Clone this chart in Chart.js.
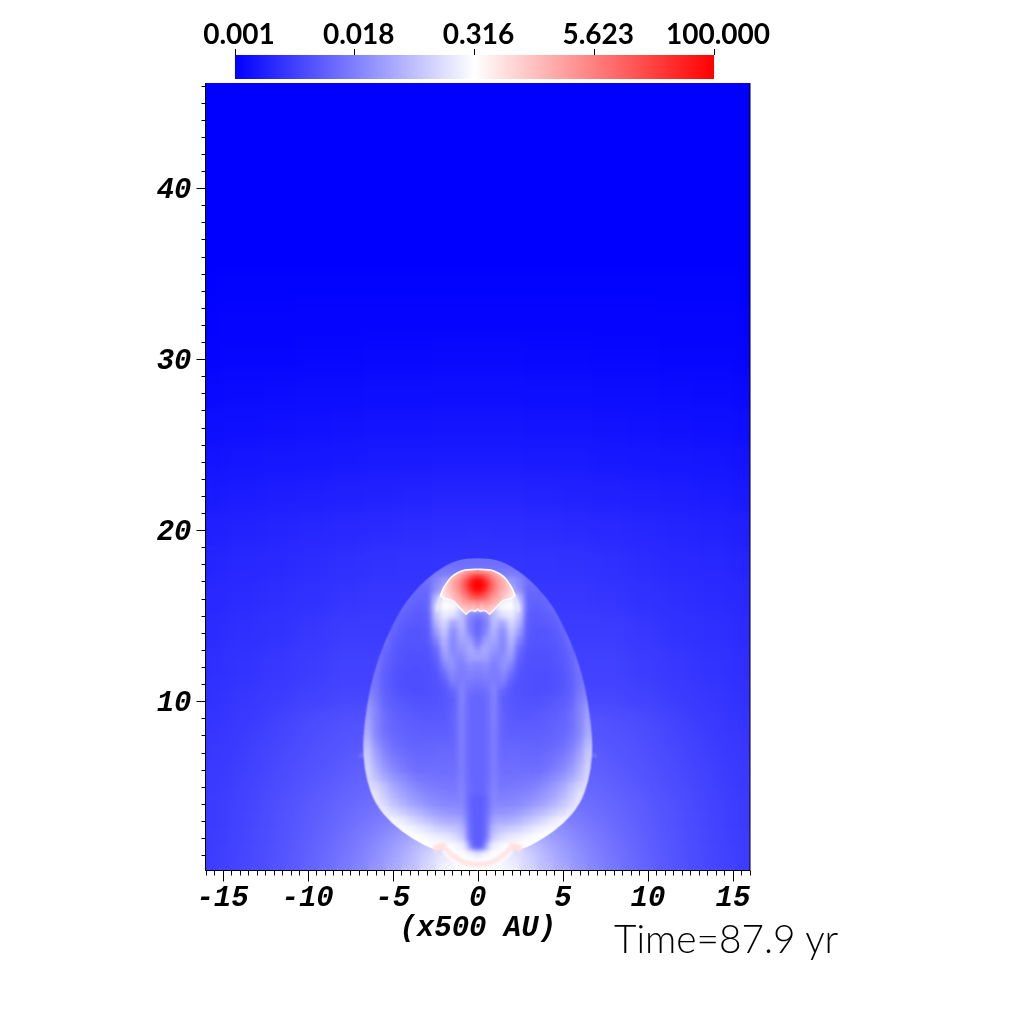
<!DOCTYPE html>
<html><head><meta charset="utf-8">
<style>
html,body{margin:0;padding:0;background:#fff;width:1024px;height:1024px;overflow:hidden}
canvas{position:absolute;left:0;top:0}
#time{position:absolute;left:614px;top:914px;font:300 38.8px Lato,sans-serif;color:#000;white-space:nowrap;line-height:48px}
</style>
<script src="https://cdn.jsdelivr.net/npm/chart.js@4"></script>
</head><body>
<canvas id="main" width="1024" height="1024"></canvas>
<canvas id="bar" width="1024" height="1024"></canvas>
<div id="time">Time=87.9 yr</div>
<script>
// ---- data (log10 of the plotted quantity; x >= 0 half, the field is mirror symmetric)
const colorbarTicks=[0.001,0.01778,0.3162,5.623,100];
const xTickLabels=[-15,-10,-5,0,5,10,15];
const yTickLabels=[10,20,30,40];
const farX=[0,2,4,6,8,10,12,14,16];
const farY=[46,44,42,40,38,36,34,32,30,28,26,24,22,20,18,16,14,12,10];
const farField=[
[-3,-3,-3,-3,-3,-3,-3,-3,-3],[-3,-3,-3,-3,-3,-3,-3,-3,-3],[-3,-3,-3,-3,-3,-3,-3,-3,-3],
[-3,-3,-3,-3,-3,-3,-3,-3,-3],[-3,-3,-3,-3,-3,-3,-3,-3,-3],[-3,-3,-3,-3,-3,-3,-3,-3,-3],
[-2.98,-2.98,-2.98,-2.98,-2.98,-2.98,-2.98,-2.98,-2.98],
[-2.95,-2.95,-2.95,-2.95,-2.95,-2.95,-2.96,-2.96,-2.96],
[-2.91,-2.91,-2.92,-2.92,-2.93,-2.93,-2.94,-2.94,-2.94],
[-2.86,-2.86,-2.87,-2.87,-2.88,-2.88,-2.89,-2.90,-2.90],
[-2.80,-2.80,-2.81,-2.81,-2.82,-2.83,-2.84,-2.85,-2.85],
[-2.74,-2.74,-2.75,-2.75,-2.76,-2.77,-2.78,-2.79,-2.80],
[-2.65,-2.65,-2.66,-2.68,-2.69,-2.71,-2.72,-2.74,-2.75],
[-2.55,-2.56,-2.57,-2.59,-2.61,-2.63,-2.65,-2.67,-2.69],
[-2.49,-2.49,-2.50,-2.51,-2.54,-2.57,-2.60,-2.62,-2.64],
[-2.46,-2.46,-2.46,-2.46,-2.48,-2.52,-2.55,-2.58,-2.60],
[-2.41,-2.41,-2.41,-2.41,-2.41,-2.46,-2.51,-2.54,-2.57],
[-2.36,-2.36,-2.36,-2.36,-2.36,-2.41,-2.46,-2.50,-2.54],
[-2.31,-2.31,-2.31,-2.31,-2.31,-2.36,-2.42,-2.47,-2.51]];
const nearX=[0,1,2,3,4,5,6,7,8,9,10,11,12,13,14,15,16];
const nearY=[9,8,7,6,5,4,3,2,1,0];
const nearField=[
[-2.2,-2.2,-2.2,-2.2,-2.2,-2.2,-2.2,-2.2,-2.22,-2.25,-2.27,-2.31,-2.36,-2.41,-2.44,-2.47,-2.49],
[-2.15,-2.15,-2.15,-2.15,-2.15,-2.15,-2.15,-2.17,-2.19,-2.22,-2.25,-2.29,-2.33,-2.38,-2.42,-2.45,-2.47],
[-2.1,-2.1,-2.1,-2.1,-2.1,-2.1,-2.1,-2.12,-2.15,-2.19,-2.22,-2.26,-2.30,-2.35,-2.40,-2.44,-2.46],
[-2.05,-2.05,-2.05,-2.05,-2.05,-2.05,-2.05,-2.06,-2.11,-2.16,-2.20,-2.24,-2.28,-2.33,-2.38,-2.42,-2.44],
[-2,-2,-2,-2,-2,-2,-2,-2.00,-2.06,-2.11,-2.16,-2.22,-2.26,-2.31,-2.36,-2.41,-2.43],
[-1.8,-1.8,-1.8,-1.8,-1.8,-1.85,-1.90,-1.95,-2.00,-2.06,-2.12,-2.18,-2.23,-2.29,-2.34,-2.39,-2.42],
[-1.5,-1.5,-1.5,-1.5,-1.6,-1.70,-1.80,-1.88,-1.96,-2.03,-2.10,-2.17,-2.22,-2.28,-2.33,-2.39,-2.42],
[-1.1,-1.1,-1.1,-1.2,-1.35,-1.53,-1.68,-1.80,-1.90,-1.99,-2.07,-2.15,-2.21,-2.27,-2.32,-2.38,-2.41],
[-0.55,-0.55,-0.65,-0.92,-1.2,-1.40,-1.58,-1.74,-1.85,-1.95,-2.04,-2.13,-2.20,-2.26,-2.31,-2.37,-2.41],
[-0.5,-0.5,-0.6,-0.85,-1.1,-1.30,-1.50,-1.68,-1.80,-1.92,-2.02,-2.11,-2.18,-2.25,-2.30,-2.36,-2.40]];
const shellX=[0,0.5,1,1.5,2,2.5,3,3.5,4,4.5,5,5.5,6,6.5,7];
const shellY=[18.5,18,17.5,17,16.5,16,15.5,15,14.5,14,13.5,13,12.5,12,11.5,11,10.5,10,9.5,9,8.5,8,7.5,7,6.5,6,5.5,5,4.5,4,3.5,3,2.5,2,1.5,1,0.5,0];
const shellField=[
[-1.92,-1.92,-1.92,-1.92,-1.92,-1.92,-1.92,-1.92,-1.92,-1.92,-1.92,-1.92,-1.92,-1.92,-1.92],
[-1.92,-1.92,-1.92,-1.92,-1.92,-1.92,-1.92,-1.92,-1.92,-1.92,-1.92,-1.92,-1.92,-1.92,-1.92],
[-1.80,-1.80,-1.80,-1.80,-1.80,-1.82,-1.87,-1.92,-1.92,-1.92,-1.92,-1.92,-1.92,-1.92,-1.92],
[-1.50,-1.50,-1.50,-1.50,-1.50,-1.70,-1.92,-1.92,-1.92,-1.92,-1.92,-1.92,-1.92,-1.92,-1.92],
[-1.30,-1.30,-1.30,-1.30,-1.30,-1.60,-1.97,-1.97,-1.92,-1.87,-1.87,-1.87,-1.87,-1.87,-1.87],
[-1.04,-1.04,-1.04,-0.75,-0.60,-1.20,-2.02,-2.02,-1.97,-1.92,-1.87,-1.87,-1.87,-1.87,-1.87],
[-0.50,-1.04,-0.84,-0.55,-0.50,-0.95,-2.02,-2.07,-2.02,-1.92,-1.87,-1.87,-1.87,-1.87,-1.87],
[-1.82,-1.63,-1.14,-0.79,-0.70,-1.10,-2.07,-2.12,-2.07,-2.02,-1.92,-1.87,-1.87,-1.87,-1.87],
[-2.02,-1.77,-1.19,-1.38,-0.90,-1.30,-2.10,-2.14,-2.12,-2.07,-1.97,-1.92,-1.87,-1.87,-1.87],
[-2.02,-1.73,-1.28,-1.63,-1.10,-1.53,-2.12,-2.17,-2.17,-2.12,-2.02,-1.87,-1.87,-1.87,-1.87],
[-1.87,-1.53,-1.38,-1.68,-1.28,-1.77,-2.14,-2.17,-2.17,-2.14,-2.07,-1.87,-1.87,-1.87,-1.87],
[-1.63,-1.38,-1.53,-1.68,-1.43,-1.97,-2.17,-2.20,-2.20,-2.17,-2.10,-1.97,-1.87,-1.87,-1.87],
[-1.53,-1.43,-1.68,-1.63,-1.58,-2.07,-2.20,-2.22,-2.22,-2.18,-2.12,-2.02,-1.82,-1.82,-1.82],
[-1.68,-1.63,-1.77,-1.63,-1.77,-2.14,-2.22,-2.22,-2.22,-2.20,-2.14,-2.04,-1.82,-1.82,-1.82],
[-1.77,-1.73,-1.77,-1.77,-1.97,-2.17,-2.22,-2.24,-2.24,-2.22,-2.16,-2.07,-1.87,-1.77,-1.77],
[-1.87,-1.82,-1.77,-1.92,-2.10,-2.20,-2.22,-2.24,-2.24,-2.22,-2.16,-2.07,-1.87,-1.73,-1.73],
[-1.97,-1.92,-1.77,-2.02,-2.14,-2.20,-2.22,-2.24,-2.22,-2.20,-2.14,-2.06,-1.84,-1.68,-1.68],
[-2.02,-1.97,-1.77,-2.07,-2.14,-2.18,-2.20,-2.20,-2.18,-2.14,-2.10,-2.02,-1.77,-1.58,-1.58],
[-2.02,-1.97,-1.79,-2.05,-2.13,-2.16,-2.17,-2.16,-2.14,-2.11,-2.06,-1.97,-1.72,-1.48,-1.48],
[-2.02,-1.97,-1.80,-2.02,-2.12,-2.14,-2.14,-2.12,-2.10,-2.07,-2.02,-1.92,-1.72,-1.42,-1.42],
[-2.02,-1.97,-1.81,-2.02,-2.10,-2.10,-2.10,-2.09,-2.07,-2.04,-2.00,-1.92,-1.70,-1.36,-1.36],
[-2.02,-1.97,-1.82,-2.02,-2.07,-2.07,-2.07,-2.06,-2.05,-2.02,-1.97,-1.87,-1.68,-1.30,-1.30],
[-2.02,-1.97,-1.82,-2.00,-2.02,-2.02,-2.03,-2.04,-2.02,-1.98,-1.92,-1.80,-1.58,-1.18,-1.18],
[-2.02,-1.97,-1.82,-1.97,-1.97,-1.98,-1.99,-2.00,-1.97,-1.92,-1.85,-1.72,-1.45,-1.07,-1.07],
[-2.02,-1.97,-1.82,-1.95,-1.95,-1.95,-1.96,-1.96,-1.92,-1.85,-1.76,-1.62,-1.35,-1.00,-1.00],
[-2.02,-1.97,-1.82,-1.92,-1.92,-1.92,-1.92,-1.93,-1.87,-1.78,-1.68,-1.50,-1.25,-0.92,-0.92],
[-2.02,-1.96,-1.80,-1.88,-1.88,-1.87,-1.85,-1.83,-1.75,-1.64,-1.53,-1.36,-1.12,-0.88,-0.88],
[-2.02,-1.94,-1.77,-1.84,-1.82,-1.80,-1.77,-1.72,-1.62,-1.50,-1.36,-1.14,-0.92,-0.80,-0.80],
[-2.02,-1.93,-1.75,-1.77,-1.75,-1.72,-1.68,-1.60,-1.50,-1.38,-1.24,-1.02,-0.78,-0.75,-0.75],
[-2.02,-1.92,-1.73,-1.70,-1.68,-1.64,-1.57,-1.48,-1.38,-1.25,-1.10,-0.90,-0.72,-0.70,-0.70],
[-2.02,-1.87,-1.63,-1.55,-1.52,-1.45,-1.36,-1.24,-1.14,-1.00,-0.86,-0.72,-0.65,-0.65,-0.65],
[-2.02,-1.82,-1.43,-1.35,-1.30,-1.22,-1.10,-0.98,-0.84,-0.70,-0.60,-0.60,-0.60,-0.60,-0.60],
[-2.02,-1.77,-1.19,-1.09,-0.99,-0.92,-0.79,-0.69,-0.60,-0.55,-0.55,-0.55,-0.55,-0.55,-0.55],
[-1.97,-1.73,-0.99,-0.79,-0.70,-0.65,-0.57,-0.50,-0.50,-0.50,-0.50,-0.50,-0.50,-0.50,-0.50],
[-1.82,-1.14,-0.65,-0.55,-0.50,-0.50,-0.50,-0.50,-0.50,-0.50,-0.50,-0.50,-0.50,-0.50,-0.50],
[-0.75,-0.60,-0.50,-0.50,-0.50,-0.50,-0.50,-0.50,-0.50,-0.50,-0.50,-0.50,-0.50,-0.50,-0.50],
[-0.50,-0.50,-0.50,-0.50,-0.50,-0.50,-0.50,-0.50,-0.50,-0.50,-0.50,-0.50,-0.50,-0.50,-0.50],
[-0.50,-0.50,-0.50,-0.50,-0.50,-0.50,-0.50,-0.50,-0.50,-0.50,-0.50,-0.50,-0.50,-0.50,-0.50]];
const headX=[0,0.25,0.5,0.75,1,1.25,1.5,1.75,2,2.25,2.5];
const headY=[18,17.75,17.5,17.25,17,16.75,16.5,16.25,16,15.75,15.5,15.25,15];
const headField=[
[0.3,0.3,0.25,0.2,0.1,0,-0.1,-0.2,-0.3,-0.4,-0.5],
[0.35,0.35,0.3,0.25,0.15,0.05,-0.1,-0.2,-0.3,-0.4,-0.5],
[0.75,0.7,0.6,0.45,0.3,0.15,0,-0.15,-0.3,-0.4,-0.5],
[1.5,1.4,1.15,0.85,0.55,0.35,0.15,0,-0.15,-0.3,-0.45],
[1.95,1.85,1.55,1.15,0.8,0.5,0.3,0.1,-0.1,-0.3,-0.45],
[2,1.95,1.7,1.25,0.85,0.55,0.35,0.1,-0.1,-0.3,-0.45],
[1.95,1.85,1.55,1.15,0.8,0.5,0.3,0.1,-0.1,-0.3,-0.45],
[1.6,1.5,1.25,0.9,0.65,0.4,0.2,0,-0.15,-0.35,-0.5],
[1.15,1.1,0.95,0.7,0.45,0.3,0.1,-0.05,-0.25,-0.45,-0.5],
[0.7,0.55,0.55,0.45,0.3,0.15,0,-0.2,-0.4,-0.5,-0.5],
[0.45,0.15,0.3,0.2,0.1,0,-0.2,-0.4,-0.5,-0.5,-0.5],
[0.2,0,0.05,0,-0.1,-0.3,-0.5,-0.5,-0.5,-0.5,-0.5],
[0.2,0,0.05,0,-0.1,-0.3,-0.5,-0.5,-0.5,-0.5,-0.5]];
const bubbleEdge=[[0,18.4],[1.33,18.25],[2.51,17.56],[3.49,16.69],[4.47,15.5],[5.45,13.57],[6.14,11.6],[6.53,9.67],[6.73,7.9],[6.73,6.75],[6.53,5.37],[6.04,4.0],[5.06,2.85],[3.88,1.97],[2.6,1.3],[2.1,1.45],[1.72,1.19],[1.22,0.8],[0.64,0.54],[0,0.47]];
const headEdge=[[0,17.72],[0.75,17.67],[1.2,17.5],[1.53,17.27],[1.8,16.95],[2.02,16.6],[2.2,16.15],[1.92,16.0],[1.6,15.95],[1.33,15.77],[1.0,15.4],[0.69,15.07],[0.5,15.25],[0.35,15.32],[0.15,15.25],[0,15.38]];
const headRim=[[0,17.72],[0.75,17.67],[1.2,17.5],[1.53,17.27],[1.8,16.95],[2.02,16.6],[2.2,16.15]];
const headRimTail=[[2.2,16.15],[2.35,15.7],[2.42,15.2]];
const headBase=[[2.2,16.15],[1.92,16.0],[1.6,15.95],[1.33,15.77],[1.0,15.4],[0.69,15.07],[0.5,15.25],[0.35,15.32],[0.15,15.25],[0,15.38]];
const bowCurve=[[1.9,1.42],[1.72,1.19],[1.22,0.8],[0.64,0.54],[0,0.47]];
const bowBlob=[[2.6,1.33],[2.2,1.5],[1.85,1.55]];
const outerLobe=[[2.25,15.8],[2.3,15],[2.2,14.2],[2.05,13.4],[1.8,12.6],[1.6,11.6],[1.45,10.8]];
const innerWall=[[0.95,15],[0.82,14.4],[0.43,13.3],[0,12.5]];
const columnWall=[[0.92,11],[0.92,8],[0.92,5],[1.0,3.6],[1.25,2.8],[1.9,2.1]];
const columnCore=[[0,1.33],[0,2.5],[0,4.5]];
const rimSpike=[[6.6,6.9],[6.98,6.78]];

// ---- colour map: blue - white (0.316) - red
const LOW=-3,MID=-0.5,HIGH=2;
function mapColor(v){
  const t=Math.max(LOW,Math.min(HIGH,v));
  if(t<=MID){const c=Math.round(255*(t-LOW)/(MID-LOW));return `rgb(${c},${c},255)`;}
  const c=Math.round(255*(1-(t-MID)/(HIGH-MID)));return `rgb(255,${c},${c})`;
}
function cells(xs,ys,field){
  const out=[];
  ys.forEach((y,r)=>xs.forEach((x,c)=>{
    out.push({x,y,v:field[r][c]});
    if(x!==0)out.push({x:-x,y,v:field[r][c]});
  }));
  return out;
}
const right=a=>a.map(p=>({x:p[0],y:p[1]}));
const left=a=>a.map(p=>({x:-p[0],y:p[1]}));
const across=a=>left(a).concat(right(a.slice(0,-1).reverse()));
const cellSet=(data,radius,fx)=>({data,fx,pointStyle:'rect',pointRadius:radius,pointBorderWidth:0,showLine:false,
  pointBackgroundColor:c=>c.raw?mapColor(c.raw.v):'transparent'});
const stroke=(data,color,width,fx,tension)=>({data,fx,showLine:true,pointRadius:0,borderColor:color,borderWidth:width,tension:tension||0,borderCapStyle:'butt',borderJoinStyle:'round',fill:false});
const both=(a,color,width,fx,tension)=>[stroke(right(a),color,width,fx,tension),stroke(left(a),color,width,fx,tension)];

let snapshot=null;
function copyArea(chart){
  const a=chart.chartArea,w=Math.ceil(a.right-a.left),h=Math.ceil(a.bottom-a.top);
  const c=document.createElement('canvas');c.width=w;c.height=h;
  c.getContext('2d').drawImage(chart.canvas,a.left,a.top,w,h,0,0,w,h);
  return c;
}
function tracePath(chart,half,smooth){
  const X=chart.scales.x,Y=chart.scales.y,ctx=chart.ctx;
  const pts=half.map(p=>[X.getPixelForValue(p[0]),Y.getPixelForValue(p[1])])
    .concat(half.slice(1,-1).reverse().map(p=>[X.getPixelForValue(-p[0]),Y.getPixelForValue(p[1])]));
  const n=pts.length;
  if(smooth){
    const mid=(a,b)=>[(a[0]+b[0])/2,(a[1]+b[1])/2];
    let m=mid(pts[n-1],pts[0]);ctx.moveTo(m[0],m[1]);
    for(let i=0;i<n;i++){const b=pts[(i+1)%n];m=mid(pts[i],b);ctx.quadraticCurveTo(pts[i][0],pts[i][1],m[0],m[1]);}
  }else{
    ctx.moveTo(pts[0][0],pts[0][1]);for(let i=1;i<n;i++)ctx.lineTo(pts[i][0],pts[i][1]);
  }
  ctx.closePath();
}
const layerFx={id:'layerFx',
  beforeDatasetDraw(chart,args){
    const fx=chart.data.datasets[args.index].fx;if(!fx)return;
    if(fx.snap)snapshot=copyArea(chart);
    if(fx.soft)chart.ctx.filter=`blur(${fx.soft}px)`;
  },
  afterDatasetDraw(chart,args){
    const fx=chart.data.datasets[args.index].fx;if(!fx)return;
    const ctx=chart.ctx,a=chart.chartArea;
    ctx.filter='none';
    if(fx.blur){
      const src=copyArea(chart);
      ctx.save();ctx.beginPath();ctx.rect(a.left,a.top,a.right-a.left,a.bottom-a.top);ctx.clip();
      ctx.filter=`blur(${fx.blur}px)`;ctx.drawImage(src,a.left,a.top);ctx.restore();
    }
    if(fx.keep){
      ctx.save();ctx.beginPath();ctx.rect(a.left,a.top,a.right-a.left,a.bottom-a.top);
      tracePath(chart,fx.keep,fx.smooth);
      ctx.clip('evenodd');ctx.drawImage(snapshot,a.left,a.top);ctx.restore();
    }
  },
  afterDraw(chart){
    const ctx=chart.ctx,a=chart.chartArea,X=chart.scales.x,Y=chart.scales.y;
    ctx.save();ctx.strokeStyle='#000';ctx.lineWidth=1;ctx.beginPath();
    X.ticks.forEach(t=>{const p=Math.round(X.getPixelForValue(t.value))+0.5;
      const L=xTickLabels.includes(t.value)?11:5;ctx.moveTo(p,a.bottom);ctx.lineTo(p,a.bottom+L);});
    Y.ticks.forEach(t=>{const p=Math.round(Y.getPixelForValue(t.value))+0.5;
      const L=yTickLabels.includes(t.value)?9:4;ctx.moveTo(a.left,p);ctx.lineTo(a.left-L,p);});
    ctx.moveTo(a.left,a.top);ctx.lineTo(a.left,a.bottom);ctx.lineTo(a.right,a.bottom);ctx.lineTo(a.right,a.top);
    ctx.stroke();ctx.restore();
  }
};
const datasets=[
  cellSet(cells(farX,farY,farField),26),
  cellSet(cells(nearX,nearY,nearField),14,{blur:9}),
  cellSet(cells(shellX,shellY,shellField),7,{snap:true}),
  ...both(outerLobe,'rgba(255,255,255,0.2)',4,{soft:2},0.3),
  ...both(innerWall,'rgba(255,255,255,0.2)',3,{soft:1},0.3),
  ...both(columnWall,'rgba(255,255,255,0.12)',3,{soft:1},0.3),
  stroke(right(columnCore),mapColor(-2.08),15,{soft:0.8,blur:2.5,keep:bubbleEdge,smooth:true}),
  ...both(rimSpike,'rgba(255,255,255,0.14)',4,{soft:1.5}),
  cellSet(cells(headX,headY,headField),4,{snap:true,blur:1.6,keep:headEdge,smooth:false}),
  ...both(headRimTail,'rgba(255,255,255,0.5)',2.5,{soft:1.2},0.3),
  ...both(headRim,'rgba(255,255,255,0.95)',1.6,{soft:0.5},0.2),
  stroke(across(headBase),'rgba(255,255,255,0.75)',1.6,{soft:0.7}),
  stroke(across(bowCurve),'#fff',9,{soft:1.5},0.3),
  stroke(across(bowCurve),mapColor(-0.25),5.5,{soft:1},0.3),
  ...both(bowBlob,mapColor(-0.2),7,{soft:1.6},0.3)
];
datasets.forEach((d,i)=>d.order=datasets.length-i);

const tickFont={family:'"Liberation Mono",monospace',size:29,weight:'bold',style:'italic'};
new Chart(document.getElementById('main'),{
  type:'scatter',
  data:{datasets},
  plugins:[layerFx],
  options:{
    responsive:false,animation:false,devicePixelRatio:1,events:[],
    layout:{padding:{left:0,right:274,top:83,bottom:77.5}},
    plugins:{legend:{display:false},tooltip:{enabled:false}},
    scales:{
      x:{type:'linear',min:-16,max:16,grid:{display:false},border:{display:false},
        afterFit(s){s.height=76;},
        title:{display:true,text:'(x500 AU)',color:'#000',font:tickFont,padding:{top:0,bottom:0}},
        ticks:{stepSize:0.5,autoSkip:false,maxRotation:0,includeBounds:false,color:'#000',font:tickFont,padding:3,
          callback:v=>xTickLabels.includes(v)?String(v):''}},
      y:{type:'linear',min:0.1,max:46.15,grid:{display:false},border:{display:false},
        afterFit(s){s.width=205.5;},
        ticks:{stepSize:1,autoSkip:false,includeBounds:false,color:'#000',font:tickFont,padding:6,labelOffset:3,
          callback:v=>yTickLabels.includes(v)?String(v):''}}
    }
  }
});

new Chart(document.getElementById('bar'),{
  type:'scatter',
  data:{datasets:[{data:[{x:colorbarTicks[0],y:0.5},{x:colorbarTicks[4],y:0.5}],showLine:true,pointRadius:0,borderWidth:24,clip:false,borderCapStyle:'butt',
    borderColor(c){const a=c.chart.chartArea;if(!a)return '#00f';
      const g=c.chart.ctx.createLinearGradient(a.left,0,a.right,0);
      g.addColorStop(0,mapColor(LOW));g.addColorStop(0.5,mapColor(MID));g.addColorStop(1,mapColor(HIGH));return g;}}]},
  options:{
    responsive:false,animation:false,devicePixelRatio:1,events:[],
    layout:{padding:{left:235,right:310,top:0,bottom:945}},
    plugins:{legend:{display:false},tooltip:{enabled:false}},
    scales:{
      x:{type:'logarithmic',position:'top',min:0.001,max:100,border:{display:false},
        grid:{drawOnChartArea:false,tickLength:6,color:'#000',tickColor:'#000'},
        afterFit(s){s.height=55;},
        afterBuildTicks(s){s.ticks=colorbarTicks.map(value=>({value}));},
        ticks:{autoSkip:false,maxRotation:0,color:'#000',padding:-3,labelOffset:4,
          font:{family:'Lato,sans-serif',size:28,weight:'bold'},callback:v=>v.toFixed(3)}},
      y:{display:false,min:0,max:1}
    }
  }
});
</script>
</body></html>
